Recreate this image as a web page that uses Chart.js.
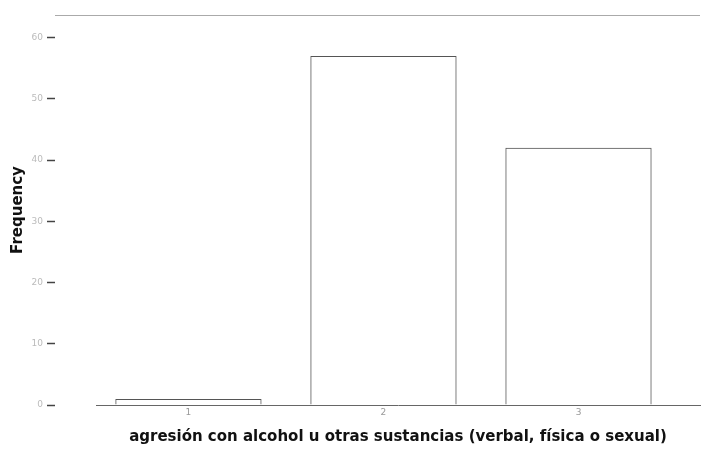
<!DOCTYPE html>
<html>
<head>
<meta charset="utf-8">
<script src="https://cdn.jsdelivr.net/npm/chart.js@4/dist/chart.umd.min.js"></script>
<style>
  body { margin: 0; background: #fff; }
  .chart-container { position: relative; width: 701px; height: 454px; }
  .top-rule { position: absolute; top: 15px; left: 55px; width: 645px; height: 1px; background: #aaa; }
</style>
</head>
<body>
<div class="chart-container">
  <canvas id="barCanvas" width="701" height="454"></canvas>
  <div class="top-rule"></div>
</div>
<script>
const categories = ['1', '2', '3'];
const frequencies = [1, 57, 42];
const yTickValues = [0, 10, 20, 30, 40, 50, 60];
const xTitle = 'agresión con alcohol u otras sustancias (verbal, física o sexual)';
const yTitle = 'Frequency';

// bars placed on a linear x scale so the plot can start away from the y ticks
const barData = categories.map((c, i) => ({ x: i + 1, y: frequencies[i] }));

const ctx = document.getElementById('barCanvas').getContext('2d');

new Chart(ctx, {
  type: 'bar',
  data: {
    datasets: [
      {
        label: yTitle,
        data: barData,
        backgroundColor: 'rgba(255, 255, 255, 0)',
        borderColor: '#555',
        borderWidth: 1,
        barPercentage: 0.75,
        categoryPercentage: 1,
      },
    ],
  },
  options: {
    responsive: false,
    animation: false,
    devicePixelRatio: 1,
    layout: { padding: { top: 15, right: 1, left: 0, bottom: 0 } },
    plugins: {
      legend: { display: false },
      tooltip: { enabled: false },
    },
    scales: {
      x: {
        type: 'linear',
        offset: false,
        min: 0.526,
        max: 3.623,
        afterBuildTicks: (scale) => {
          scale.ticks = categories.map((c, i) => ({ value: i + 1 }));
        },
        afterFit: (scale) => {
          scale.height = 49;
        },
        ticks: {
          callback: (v) => categories[v - 1],
          color: '#999',
          font: { family: 'DejaVu Sans', size: 9 },
          padding: 2,
          maxRotation: 0,
        },
        grid: { display: false, drawTicks: false },
        border: { display: true, color: '#666', width: 1 },
        title: {
          display: true,
          text: xTitle,
          color: '#111',
          font: { family: 'DejaVu Sans', size: 15, weight: 'bold' },
          padding: { top: 0, bottom: 8 },
        },
      },
      y: {
        min: 0,
        max: 63.7,
        afterBuildTicks: (scale) => {
          scale.ticks = yTickValues.map((v) => ({ value: v }));
        },
        afterFit: (scale) => {
          scale.width = 96;
        },
        ticks: {
          color: '#bbb',
          font: { family: 'DejaVu Sans', size: 9 },
          padding: 4,
        },
        grid: {
          drawOnChartArea: false,
          drawTicks: true,
          tickLength: 49,
          tickColor: '#444',
          tickWidth: 1.5,
          tickBorderDash: [8, 200],
        },
        border: { display: false },
        title: {
          display: true,
          text: yTitle,
          color: '#111',
          font: { family: 'DejaVu Sans', size: 15, weight: 'bold' },
          padding: { top: 9, bottom: 0 },
        },
      },
    },
  },
});
</script>
</body>
</html>
